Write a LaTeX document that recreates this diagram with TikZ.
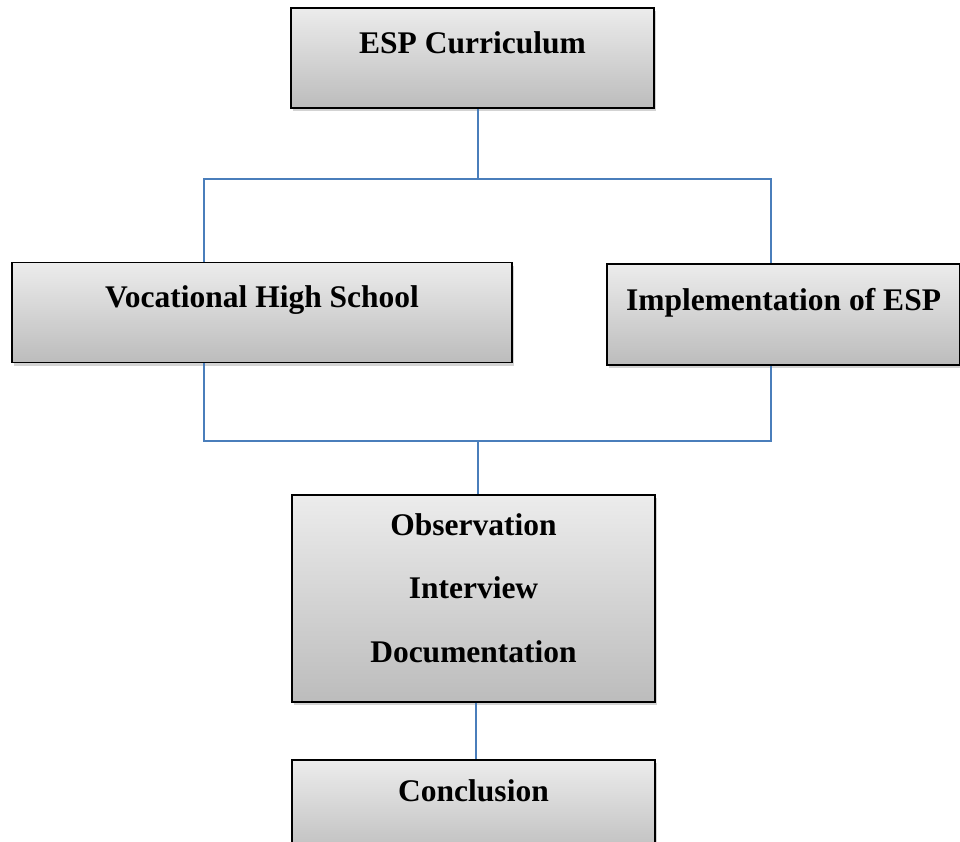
\documentclass[tikz,border=0pt]{standalone}
\usepackage{fontspec}
\setmainfont{Liberation Serif}
\usetikzlibrary{shadows, positioning}

\definecolor{linkblue}{HTML}{4A7EBB}
\definecolor{boxtop}{HTML}{ECECEC}
\definecolor{boxbot}{HTML}{BCBCBC}

\tikzset{
  stage/.style = {draw, line width=1.5pt, top color=boxtop, bottom color=boxbot,
                  drop shadow={shadow xshift=2pt, shadow yshift=-3pt, opacity=.35},
                  inner sep=0pt, align=center,
                  font=\bfseries\fontsize{31.5}{63.5}\selectfont},
  link/.style  = {draw=linkblue, line width=1.2pt}
}

\begin{document}
\begin{tikzpicture}[x=1pt, y=-1pt]
   \useasboundingbox (0,0) rectangle (960,841);

   \node (esp)[stage, minimum width=363, text height=45, text depth=55] at (472.5,58) {ESP Curriculum};
   \node (voc)[stage, minimum width=500, text height=45, text depth=55] at (262,312.5) {Vocational High School};
   \node (impl)[stage, minimum width=353, text height=46, text depth=55] at (783.5,314.5) {Implementation of ESP};
   \node (obs)[stage, minimum width=363, text height=167, text depth=40] at (473.5,598.5)
         {Observation\\Interview\\Documentation};
   \node (concl)[stage, minimum width=363, text height=41, text depth=59] at (473.5,810) {Conclusion};

   \coordinate (split) at (478,179);
   \coordinate (sL) at (204,179);
   \coordinate (sR) at (771,179);
   \coordinate (merge) at (478,441);
   \coordinate (mL) at (204,441);
   \coordinate (mR) at (771,441);

   \path[link] (esp.south -| split) -- (split);
   \path[link] (voc.north -| sL) -- (sL) -- (sR) -- (impl.north -| sR);
   \path[link] (voc.south -| mL) -- (mL) -- (mR) -- (impl.south -| mR);
   \path[link] (merge) -- (obs.north -| merge);
   \path[link] ([xshift=2.5pt]obs.south) -- ([xshift=2.5pt]concl.north);
\end{tikzpicture}
\end{document}
